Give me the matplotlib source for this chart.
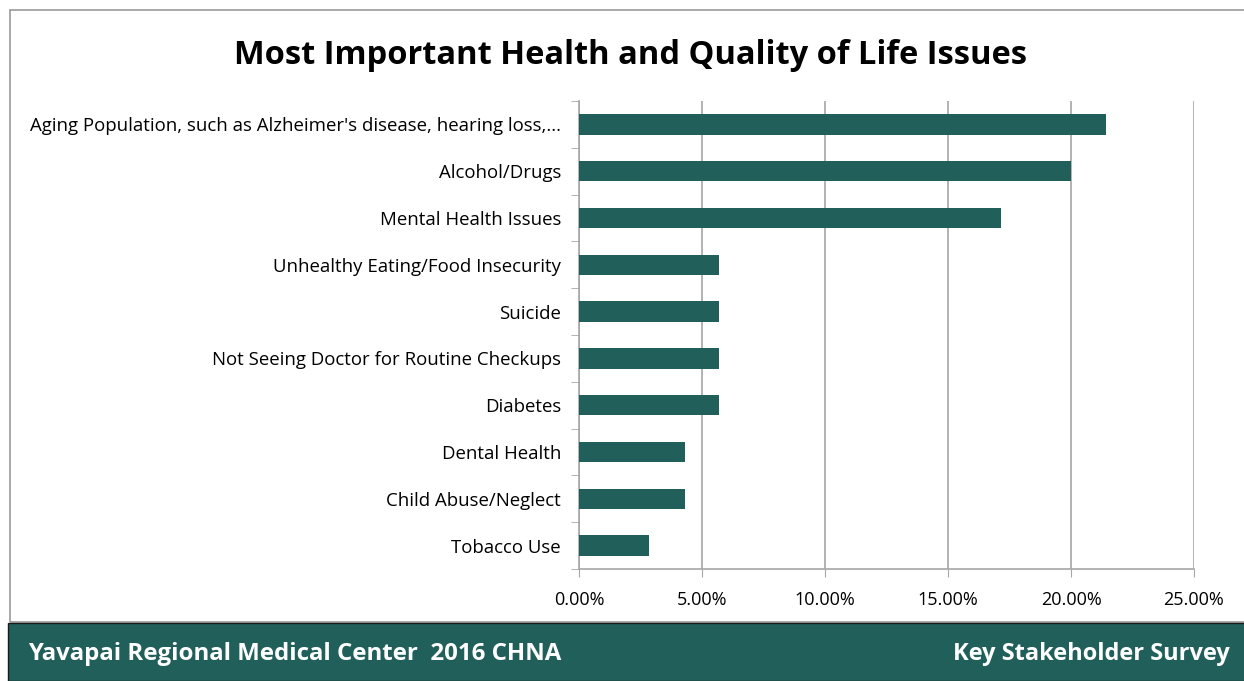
import matplotlib.pyplot as plt
from matplotlib.patches import Rectangle
from matplotlib.ticker import PercentFormatter

# values (share of respondents, %)
issues = ["Aging Population, such as Alzheimer's disease, hearing loss,...",
          "Alcohol/Drugs",
          "Mental Health Issues",
          "Unhealthy Eating/Food Insecurity",
          "Suicide",
          "Not Seeing Doctor for Routine Checkups",
          "Diabetes",
          "Dental Health",
          "Child Abuse/Neglect",
          "Tobacco Use"]
shares = [21.43, 20.00, 17.14, 5.71, 5.71, 5.71, 5.71, 4.29, 4.29, 2.86]
x_ticks = [0, 5, 10, 15, 20, 25]

green = "#21605a"
grid = "#a6a6a6"

fig = plt.figure(figsize=(12.44, 6.81), dpi=100)
W, H = 1244, 681

# outer chart border and footer band
fig.patches.append(Rectangle((10 / W, 1 - 622 / H), 1.2, 612 / H, transform=fig.transFigure,
                             fill=False, edgecolor="#9a9a9a", lw=1.2))
fig.patches.append(Rectangle((8 / W, 0), 1.0, 58 / H, transform=fig.transFigure,
                             facecolor=green, edgecolor="#1a1a1a", lw=1.0))
fig.text(28 / W, 27 / H, "Yavapai Regional Medical Center  2016 CHNA", color="white",
         fontsize=17.3, fontweight="bold", family="Open Sans", va="center", ha="left")
fig.text(1230 / W, 27 / H, "Key Stakeholder Survey", color="white",
         fontsize=17, fontweight="bold", family="Open Sans", va="center", ha="right")

fig.text(631 / W, 1 - 55 / H, "Most Important Health and Quality of Life Issues",
         fontsize=23.5, fontweight="bold", family="Open Sans", ha="center", va="center")

ax = fig.add_axes([579 / W, 1 - 569 / H, (1194 - 579) / W, (569 - 101) / H])
pos = list(range(len(issues)))
ax.barh(pos, shares, height=0.44, color=green, zorder=3)
ax.set_ylim(len(issues) - 0.5, -0.5)
ax.set_xlim(0, 25)
ax.set_xticks(x_ticks)
ax.xaxis.set_major_formatter(PercentFormatter(decimals=2))
ax.set_yticks(pos)
ax.set_yticklabels(issues, family="Open Sans", fontsize=13.4)
ax.set_yticks([p + 0.5 for p in [-1] + pos], minor=True)
ax.tick_params(axis="y", which="major", length=0, pad=13)
ax.tick_params(axis="y", which="minor", length=6, color=grid)
ax.tick_params(axis="x", length=6, color=grid, pad=10, labelsize=13)
for lab in ax.get_xticklabels():
    lab.set_family("Open Sans")
ax.grid(axis="x", color=grid, lw=1.2, zorder=0)
for s in ["top", "right"]:
    ax.spines[s].set_visible(False)
for s in ["left", "bottom"]:
    ax.spines[s].set_color(grid)
    ax.spines[s].set_linewidth(1.2)

fig.savefig("out.png", dpi=100)
